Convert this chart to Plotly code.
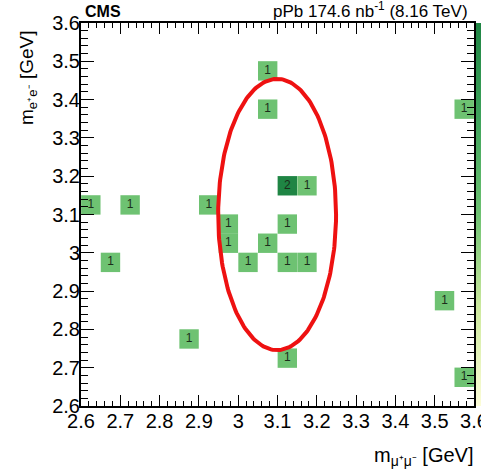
import base64
import struct
import zlib

import numpy as np
import plotly.graph_objects as go

# ---- data: occupied bins (bin centres in GeV, bin width 0.05) and counts ----
mumu_mass = [2.625, 2.725, 2.675, 2.925, 2.975, 2.975, 3.025, 3.075, 3.125, 3.125,
             3.175, 3.125, 3.175, 3.075, 3.075, 3.575, 3.525, 3.575, 2.875, 3.125]
ee_mass = [3.125, 3.125, 2.975, 3.125, 3.075, 3.025, 2.975, 3.025, 3.075, 2.975,
           2.975, 3.175, 3.175, 3.375, 3.475, 3.375, 2.875, 2.675, 2.775, 2.725]
counts = [1, 1, 1, 1, 1, 1, 1, 1, 1, 1,
          1, 2, 1, 1, 1, 1, 1, 1, 1, 1]

tick_vals = [2.6, 2.7, 2.8, 2.9, 3.0, 3.1, 3.2, 3.3, 3.4, 3.5, 3.6]
tick_text = ["2.6", "2.7", "2.8", "2.9", "3", "3.1", "3.2", "3.3", "3.4", "3.5", "3.6"]

# J/psi signal-region ellipse: centre and semi-axes (GeV)
ell_centre = (3.099, 3.10)
ell_semi = (0.150, 0.354)

W, H = 481, 474
ml, mr, mt, mb = 81, 7, 23, 68
pw = W - ml - mr
ph = H - mt - mb
lo, hi = 2.6, 3.6
span = hi - lo
bin_px = 0.05 * (pw + ph) / 2.0 / span   # bin size in pixels

colorscale = [[0.0, "#fdfdd8"], [0.25, "#cfeaa0"], [0.5, "#6ec272"],
              [0.75, "#3fa45c"], [1.0, "#1f8544"]]


def hex2rgb(h):
    h = h.lstrip("#")
    return [int(h[i:i + 2], 16) for i in (0, 2, 4)]


def scale_rgb(t):
    for (a, ca), (b, cb) in zip(colorscale[:-1], colorscale[1:]):
        if a <= t <= b:
            f = (t - a) / (b - a)
            c1, c2 = hex2rgb(ca), hex2rgb(cb)
            return [round(c1[k] + f * (c2[k] - c1[k])) for k in range(3)]
    return hex2rgb(colorscale[-1][1])


def gradient_png(n):
    rows = b"".join(b"\x00" + bytes(scale_rgb(1 - (i + 0.5) / n)) for i in range(n))

    def chunk(tag, data):
        return (struct.pack(">I", len(data)) + tag + data
                + struct.pack(">I", zlib.crc32(tag + data) & 0xffffffff))
    png = (b"\x89PNG\r\n\x1a\n" + chunk(b"IHDR", struct.pack(">IIBBBBB", 1, n, 8, 2, 0, 0, 0))
           + chunk(b"IDAT", zlib.compress(rows)) + chunk(b"IEND", b""))
    return "data:image/png;base64," + base64.b64encode(png).decode()


fig = go.Figure()
fig.add_trace(go.Scatter(
    x=mumu_mass, y=ee_mass, mode="markers+text",
    text=[str(c) for c in counts], textposition="middle center",
    textfont=dict(family="Liberation Sans", size=12, color="#1c2e1c"),
    marker=dict(symbol="square", size=bin_px, color=counts, cmin=0, cmax=2,
                colorscale=colorscale, line=dict(width=0), opacity=1, showscale=False),
    hoverinfo="x+y+text",
))

theta = np.linspace(0, 2 * np.pi, 241)
fig.add_trace(go.Scatter(
    x=ell_centre[0] + ell_semi[0] * np.cos(theta),
    y=ell_centre[1] + ell_semi[1] * np.sin(theta),
    mode="lines", line=dict(color="#ee1111", width=4), hoverinfo="skip"))

# colour-scale strip (palette axis), partly cut off at the right edge as in the reference
fig.add_layout_image(dict(source=gradient_png(96), xref="paper", yref="paper",
                          x=(476 - ml) / pw, y=1, sizex=30 / pw, sizey=1,
                          xanchor="left", yanchor="top", sizing="stretch", layer="below"))

axis_common = dict(
    range=[lo, hi], tickmode="array", tickvals=tick_vals, ticktext=tick_text,
    ticks="inside", tickwidth=1, tickcolor="black",
    showline=True, linecolor="black", linewidth=2, mirror="allticks",
    showgrid=False, zeroline=False, ticklabeloverflow="allow",
    tickfont=dict(family="Liberation Sans", size=20, color="black"),
)
fig.update_xaxes(**axis_common, ticklen=11, ticklabelstandoff=-4,
                 minor=dict(ticks="inside", ticklen=5, tickmode="linear", dtick=0.02,
                            tick0=2.6, tickcolor="black", tickwidth=1, showgrid=False))
fig.update_yaxes(**axis_common, ticklen=13, ticklabelstandoff=-5,
                 minor=dict(ticks="inside", ticklen=7, tickmode="linear", dtick=0.02,
                            tick0=2.6, tickcolor="black", tickwidth=1, showgrid=False))

fig.add_annotation(xref="paper", yref="paper", x=0.005, y=1, xanchor="left", yanchor="bottom",
                   text="<b>CMS</b>", showarrow=False, yshift=1,
                   font=dict(family="Liberation Sans", size=16, color="black"))
fig.add_annotation(xref="paper", yref="paper", x=0.99, y=1, xanchor="right", yanchor="bottom",
                   text="pPb 174.6 nb<sup>-1</sup> (8.16 TeV)", showarrow=False, yshift=0,
                   font=dict(family="Liberation Sans", size=17, color="black"))
fig.add_annotation(xref="paper", yref="paper", x=1.005, y=0, xanchor="right", yanchor="top",
                   text="m<sub>μ⁺μ⁻</sub> [GeV]", showarrow=False, yshift=-36,
                   font=dict(family="Liberation Sans", size=20, color="black"))
fig.add_annotation(xref="paper", yref="paper", x=0, y=1, xanchor="right", yanchor="top",
                   text="m<sub>e⁺e⁻</sub> [GeV]", showarrow=False, textangle=-90,
                   xshift=-39, yshift=-6,
                   font=dict(family="Liberation Sans", size=19, color="black"))

fig.update_layout(width=W, height=H,
                  margin=dict(l=ml, r=mr, t=mt, b=mb, autoexpand=False),
                  paper_bgcolor="white", plot_bgcolor="white", showlegend=False)
fig.write_html("out.html")
